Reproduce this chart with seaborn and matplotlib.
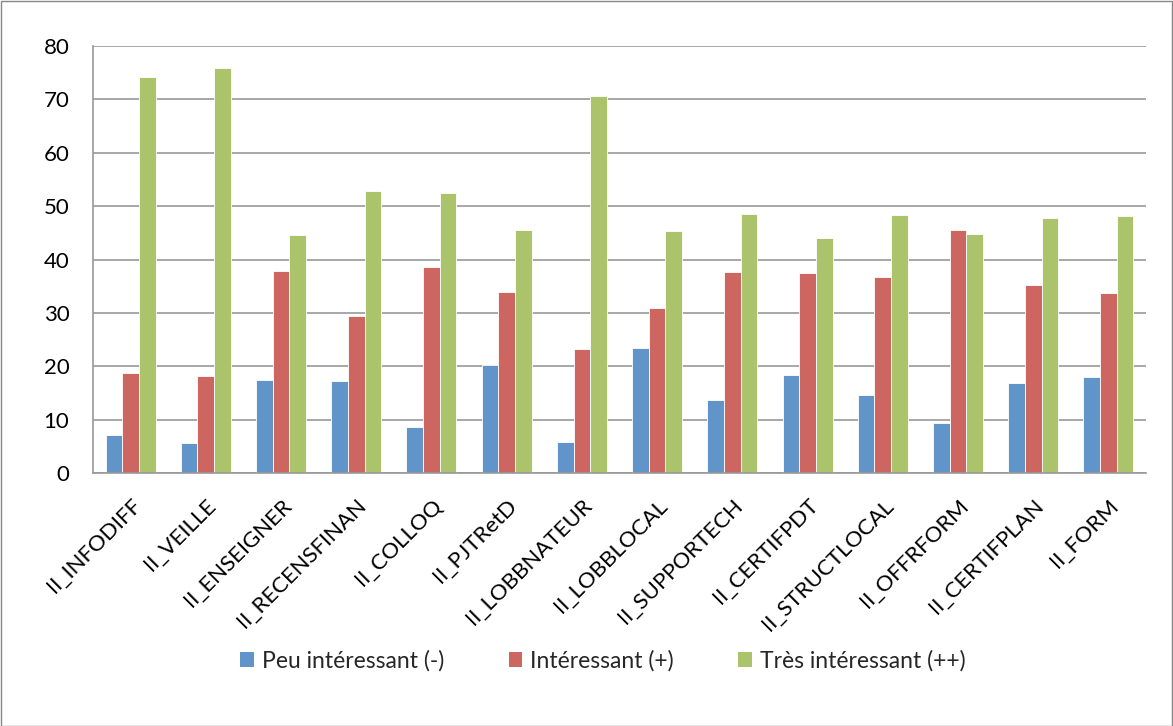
import matplotlib
matplotlib.use("Agg")
import matplotlib.pyplot as plt
import seaborn as sns
import pandas as pd
import numpy as np
from matplotlib.patches import Rectangle, Patch

categories = ["II_INFODIFF", "II_VEILLE", "II_ENSEIGNER", "II_RECENSFINAN", "II_COLLOQ",
              "II_PJTRetD", "II_LOBBNATEUR", "II_LOBBLOCAL", "II_SUPPORTECH", "II_CERTIFPDT",
              "II_STRUCTLOCAL", "II_OFFRFORM", "II_CERTIFPLAN", "II_FORM"]
series_names = ["Peu intéressant (-)", "Intéressant (+)", "Très intéressant (++)"]
peu = [7.2, 5.7, 17.5, 17.3, 8.7, 20.2, 5.9, 23.5, 13.6, 18.3, 14.6, 9.4, 16.9, 17.9]
interessant = [18.7, 18.2, 37.9, 29.5, 38.6, 34.0, 23.2, 31.0, 37.6, 37.4, 36.7, 45.5, 35.2, 33.7]
tres = [74.1, 75.9, 44.5, 52.8, 52.5, 45.5, 70.6, 45.4, 48.5, 44.1, 48.4, 44.8, 47.7, 48.2]
yticks = [0, 10, 20, 30, 40, 50, 60, 70, 80]
colors = ["#6194C8", "#CD6660", "#ABC46C"]

df = pd.DataFrame({
    "cat": categories * 3,
    "serie": sum([[s] * len(categories) for s in series_names], []),
    "val": peu + interessant + tres,
})

sns.set_theme(style="white")
plt.rcParams["font.family"] = ["Lato", "DejaVu Sans"]

fig = plt.figure(figsize=(11.73, 7.26), dpi=100)
ax = fig.add_axes([93/1173, 1 - 473/726, (1146-93)/1173, (473-46)/726])

sns.barplot(data=df, x="cat", y="val", hue="serie", hue_order=series_names,
            order=categories, palette=colors, width=0.665, ax=ax,
            saturation=1, edgecolor="white", linewidth=0.6, legend=False)

ax.set_ylim(0, 80)
ax.set_xlim(-0.5, len(categories) - 0.5)
ax.set_yticks(yticks)
ax.set_yticklabels([str(t) for t in yticks], fontsize=16)
ax.yaxis.grid(True, color="#989898", linewidth=1.2)
ax.set_axisbelow(True)
ax.set_xlabel("")
ax.set_ylabel("")

for s in ["top", "right"]:
    ax.spines[s].set_visible(False)
for s in ["left", "bottom"]:
    ax.spines[s].set_color("#989898")
    ax.spines[s].set_linewidth(1.2)

ax.tick_params(axis="y", length=6, color="#989898", width=1.2, direction="out", pad=11, labelcolor="black")
ax.set_xticks(range(len(categories)))
ax.set_xticklabels(categories, rotation=45, ha="right", rotation_mode="anchor", fontsize=16)
ax.tick_params(axis="x", length=0, pad=16, labelcolor="black")
ax.set_xticks(np.arange(-0.5, len(categories), 1), minor=True)
ax.tick_params(axis="x", which="minor", length=6, color="#989898", width=1.2, direction="out")

handles = [Patch(facecolor=c, edgecolor="none") for c in colors]
fig.legend(handles, series_names, loc="center", bbox_to_anchor=(603/1173, 1 - 661/726),
           ncol=3, frameon=False, fontsize=16.5, handlelength=0.6, handleheight=0.6,
           columnspacing=2.8, handletextpad=0.35)

fig.patches.append(Rectangle((0.5/1173, 0.5/726), 1 - 1.5/1173, 1 - 1.5/726,
                             transform=fig.transFigure, fill=False,
                             edgecolor="#878787", linewidth=1.0))

fig.savefig("out.png", dpi=100)
